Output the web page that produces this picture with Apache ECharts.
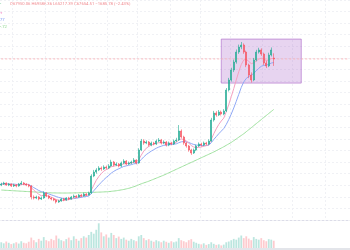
<!DOCTYPE html>
<html><head><meta charset="utf-8">
<script src="https://cdn.jsdelivr.net/npm/echarts@6/dist/echarts.min.js"></script>
<style>html,body{margin:0;padding:0;background:#fff}#c{width:350px;height:250px}</style>
</head><body><div id="c"></div>
<script>
const categories = Array.from({length: 140}, (_, i) => String(i));
const opens = [24080,24430,24770,24080,24430,23740,24080,23740,24430,24770,24430,24080,23740,19940,19590,19940,19250,19590,21320,20280,19590,19250,18900,18210,18550,19250,18900,19590,19250,19940,20280,19940,20630,20280,20970,20630,21320,27190,28570,29270,29960,29610,30300,29960,30650,32030,30990,31340,30650,31680,32370,31340,31680,32030,32720,31680,36180,39280,38590,38940,37900,38590,38250,39280,39630,38590,38940,37900,38590,38250,39280,39630,42740,40670,38590,37560,36180,35140,36180,37560,38250,37900,38590,38250,39280,46540,48960,48270,49300,48610,49650,56910,60360,63820,66580,70030,71760,72450,70030,65540,62090,60360,67270,70030,70730,69340,66230,65200,69000,67950];
const closes = [24430,24770,24080,24430,23740,24080,23740,24430,24770,24430,24080,23740,19940,19590,19940,19250,19590,21320,20280,19590,19250,18900,18210,18550,19250,18900,19590,19250,19940,20280,19940,20630,20280,20970,20630,21320,27190,28570,29270,29960,29610,30300,29960,30650,32030,30990,31340,30650,31680,32370,31340,31680,32030,32720,31680,36180,39280,38590,38940,37900,38590,38250,39280,39630,38590,38940,37900,38590,38250,39280,39630,42740,40670,38590,37560,36180,35140,36180,37560,38250,37900,38590,38250,39280,46540,48960,48270,49300,48610,49650,56910,60360,63820,66580,70030,71760,72450,70030,65540,62090,60360,67270,70030,70730,69340,66230,65200,69000,70730,67654.51];
const highs = [24900,25200,25000,24800,24600,24500,24400,24800,25500,25100,24700,24400,24100,20500,20400,20300,20100,21900,21600,20600,19900,19600,19200,19000,19600,19700,19900,20000,20300,20800,20600,21000,21000,21500,21300,21800,27800,29300,29900,30600,30500,30900,30800,31300,32800,32400,31900,31700,32200,33000,32700,32200,32500,33400,33000,36800,40000,39900,39500,39300,39100,39000,39800,40300,40000,39500,39300,39100,39000,39800,40400,44800,43300,41100,39000,37900,36600,36700,38000,38800,38700,39100,39000,39900,47300,49700,49600,50000,49800,50300,57600,61100,64600,67400,70900,72600,73500,73000,70500,66000,63000,68000,70800,71500,71300,69800,67000,69800,71600,69586.36];
const lows = [23700,24100,23800,23700,23400,23400,23300,23500,24200,24000,23700,23300,19100,19100,19200,18800,18900,19300,19900,19200,18800,18500,17700,17900,18300,18500,18600,18900,19000,19600,19600,19700,19900,20000,20300,20400,21000,26800,28000,28900,29000,29300,29500,29600,30300,30500,30600,30200,30300,31300,30900,31000,31300,31700,31200,31400,35800,38000,38200,37400,37500,37800,37900,38900,38100,38200,37400,37500,37800,37900,38900,39300,40200,38000,37000,35600,34500,34800,35800,37200,37400,37500,37800,37900,39000,46000,47700,47900,48100,48200,49300,56400,59800,63100,66000,69400,71000,69400,64800,61000,59500,60000,66800,69500,68700,65500,64500,64800,68500,65217.39];
const volumes = [22,18,25,20,15,18,22,17,26,20,18,24,40,30,22,35,28,42,30,26,35,30,48,36,30,26,34,40,30,45,35,28,38,45,40,50,62,55,70,95,60,45,52,40,58,50,38,44,35,40,32,28,35,30,26,45,50,38,30,34,28,24,30,26,22,28,24,20,26,22,25,38,30,26,22,30,34,24,20,16,14,18,12,15,22,16,12,14,10,13,22,25,30,35,32,40,48,38,45,36,30,42,35,32,38,30,26,34,32,28];
const maFast = [24300,24400,24400,24400,24300,24200,24100,24100,24200,24300,24300,24200,23200,22300,21600,20900,20400,20500,20400,20200,19900,19500,19100,18800,18800,18800,18900,19000,19300,19600,19800,20000,20200,20400,20500,20700,22300,24000,25700,27000,28000,28900,29400,29800,30400,30600,30800,30900,31100,31400,31500,31600,31700,32000,32000,32900,34400,35800,36800,37400,37900,38200,38500,38700,38700,38700,38600,38500,38500,38600,38800,39700,40000,39800,39300,38600,37700,37200,37000,37100,37200,37500,37700,38000,39800,41800,43500,45000,46200,47200,49400,51900,54600,57400,60400,63200,65700,67300,67500,66800,66000,66300,66900,67600,67900,67600,67100,67300,67800,67800];
const maMid = [24500,24500,24500,24400,24400,24400,24300,24300,24300,24300,24300,24300,23700,23200,22700,22200,21800,21600,21300,21000,20700,20400,20100,19800,19600,19400,19300,19200,19300,19400,19500,19700,19800,20000,20100,20300,21100,22100,23100,24100,25000,25900,26700,27400,28200,28800,29300,29700,30100,30500,30700,30900,31100,31400,31500,32000,32900,33800,34600,35200,35800,36300,36800,37200,37500,37800,37900,38000,38100,38200,38300,38700,39000,39100,39000,38800,38400,38100,37900,37800,37700,37700,37700,37800,38700,39800,40800,41800,42700,43600,45000,46700,48600,50700,53000,55400,57800,59700,60900,61600,62000,62700,63500,64400,65100,65400,65500,65800,66200,66400];
const maSlow = [22360,22300,22250,22200,22150,22100,22050,22000,21950,21900,21850,21800,21750,21700,21650,21600,21550,21500,21450,21400,21380,21360,21340,21330,21320,21320,21320,21330,21340,21360,21380,21400,21420,21450,21480,21510,21540,21570,21600,21630,21660,21700,21750,21800,21900,22000,22100,22250,22400,22550,22750,22950,23200,23500,23800,24150,24500,24800,25100,25400,25750,26100,26450,26800,27150,27500,27900,28300,28700,29100,29500,29900,30300,30700,31100,31500,31900,32300,32700,33100,33500,33900,34300,34700,35100,35500,35950,36400,36850,37300,37800,38300,38800,39400,40000,40600,41200,41800,42500,43200,43900,44600,45300,46000,46700,47400,48100,48800,49500,50200];
const lastClose = 67654.51;
const zoneTop = 74500, zoneBottom = 59300, zoneStart = '88', zoneEnd = '120';
const headerText = 'O67950.06 H69586.36 L65217.39 C67654.51 −1685.78 (−2.43%)';
const vGridIdx = [5, 18, 30, 43, 55, 68, 80, 92, 105, 117, 130];

const UP = '#22ab94', DOWN = '#f7525f';
const candleData = opens.map((o, i) => [o, closes[i], lows[i], highs[i]]);
const volData = volumes.map((v, i) => ({
  value: v,
  itemStyle: {color: closes[i] >= opens[i] ? 'rgba(34,171,148,0.3)' : 'rgba(247,82,95,0.3)'}
}));
const lastLine = categories.map(() => lastClose);

const chart = echarts.init(document.getElementById('c'), null, {renderer: 'canvas'});
const gridLine = {show: true, lineStyle: {color: '#f0f1f5', type: [2, 2], width: 1}};
chart.setOption({
  animation: false,
  grid: [
    {left: 0, right: 0, top: 0, height: 220},
    {left: 0, right: 0, top: 222, height: 26}
  ],
  xAxis: [
    {type: 'category', data: categories, gridIndex: 0, boundaryGap: true,
     axisLine: {show: false}, axisTick: {show: false}, axisLabel: {show: false},
     splitLine: Object.assign({}, gridLine, {interval: (idx) => vGridIdx.indexOf(idx) >= 0})},
    {type: 'category', data: categories, gridIndex: 1, boundaryGap: true,
     axisLine: {show: false}, axisTick: {show: false}, axisLabel: {show: false}, splitLine: {show: false}}
  ],
  yAxis: [
    {type: 'value', gridIndex: 0, min: 12000, max: 88000, interval: 4000,
     axisLine: {show: false}, axisTick: {show: false}, axisLabel: {show: false}, splitLine: gridLine},
    {type: 'value', gridIndex: 1, min: 0, max: 100,
     axisLine: {show: false}, axisTick: {show: false}, axisLabel: {show: false}, splitLine: {show: false}}
  ],
  series: [
    {type: 'bar', xAxisIndex: 1, yAxisIndex: 1, data: volData, barWidth: 1.8},
    {type: 'line', data: lastLine, symbol: 'none', silent: true, z: 1,
     lineStyle: {color: '#f7b3b8', type: [2, 2], width: 1}},
    {type: 'line', data: maSlow, symbol: 'none', smooth: true, lineStyle: {color: '#9ee09e', width: 1}, z: 2},
    {type: 'line', data: maMid, symbol: 'none', lineStyle: {color: '#8fa8f5', width: 1}, z: 2},
    {type: 'line', data: maFast, symbol: 'none', lineStyle: {color: '#f5a0c0', width: 1}, z: 2},
    {type: 'candlestick', data: candleData, barWidth: 1.6, z: 3,
     itemStyle: {color: UP, color0: DOWN, borderColor: UP, borderColor0: DOWN, borderWidth: 0.6},
     markArea: {silent: true,
       itemStyle: {color: 'rgba(170,100,200,0.28)', borderColor: 'rgba(170,100,200,0.6)', borderWidth: 1},
       data: [[{xAxis: zoneStart, yAxis: zoneTop}, {xAxis: zoneEnd, yAxis: zoneBottom}]]}
    }
  ],
  graphic: [
    {type: 'line', shape: {x1: 0, y1: 220.5, x2: 350, y2: 220.5}, style: {stroke: '#dcdce8', lineWidth: 1}},
    {type: 'rect', shape: {x: 0, y: 248, width: 350, height: 2}, style: {fill: '#e3e5ea'}},
    {type: 'text', left: 10, top: 1.5, style: {text: headerText, fill: '#f08a8f', fontSize: 4.2, fontFamily: 'Roboto'}},
    {type: 'text', left: 0, top: 1.5, style: {text: '•', fill: '#7fd0a0', fontSize: 4.2, fontFamily: 'Roboto'}},
    {type: 'text', left: 0, top: 11, style: {text: '9', fill: '#f27fc0', fontSize: 4.2, fontFamily: 'Roboto'}},
    {type: 'text', left: 0, top: 17.5, style: {text: '77', fill: '#7f9cf5', fontSize: 4.2, fontFamily: 'Roboto'}},
    {type: 'text', left: 0, top: 25, style: {text: '-.72', fill: '#8fd88f', fontSize: 4.2, fontFamily: 'Roboto'}}
  ]
});
</script></body></html>
